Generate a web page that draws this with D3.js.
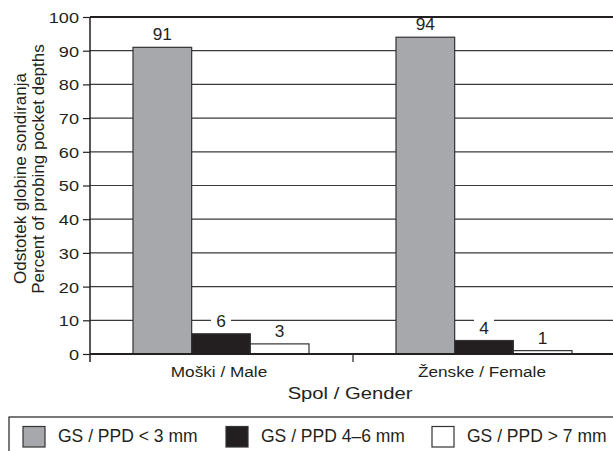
<!DOCTYPE html>
<html><head><meta charset="utf-8">
<script src="https://cdn.jsdelivr.net/npm/d3@7"></script>
<style>body{margin:0;background:#fff}text{font-family:"Liberation Sans",Arial,Helvetica,sans-serif;fill:#231f20}</style>
</head><body><svg id="c" width="613" height="451"></svg>
<script>
const categories = ["Moški / Male", "Ženske / Female"];
const seriesNames = ["GS / PPD < 3 mm", "GS / PPD 4\u20136 mm", "GS / PPD > 7 mm"];
const seriesColors = ["#a7a8ab", "#231f20", "#ffffff"];
const valuesLow = [91, 94];
const valuesMid = [6, 4];
const valuesHigh = [3, 1];
const yTicks = [0, 10, 20, 30, 40, 50, 60, 70, 80, 90, 100];
const series = [valuesLow, valuesMid, valuesHigh];

(function () {
const svg = d3.select("#c");
const pL = 90, pR = 616, pT = 17, pB = 354;
const y = d3.scaleLinear().domain([0, 100]).range([pB, pT]);
const x0 = d3.scaleBand().domain(categories).range([pL, pR]).paddingInner(0).paddingOuter(0);
const x1 = d3.scaleBand().domain(d3.range(series.length)).range([43, 219]).padding(0);

function txt(g, x, yy, s, size, sx, anchor) {
  return g.append("text").attr("transform", `translate(${x},${yy}) scale(${sx},1)`)
    .attr("dy", "0.35em").attr("text-anchor", anchor || "middle").attr("font-size", size).text(s);
}

// gridlines
svg.append("g").selectAll("line").data(yTicks.filter(t => t > 0 && t < 100)).join("line")
  .attr("x1", pL).attr("x2", 613).attr("y1", d => y(d)).attr("y2", d => y(d))
  .attr("stroke", "#3a3a3a").attr("stroke-width", 1.2);

// y axis
const yAxis = d3.axisLeft(y).tickValues(yTicks).tickSize(7).tickPadding(4);
const ga = svg.append("g").attr("transform", `translate(${pL},0)`).call(yAxis);
ga.select(".domain").remove();
ga.selectAll(".tick line").attr("stroke", "#231f20").attr("stroke-width", 1.2);
ga.selectAll(".tick text").attr("font-size", 15.5).attr("fill", "#231f20")
  .attr("transform", "scale(1.17,1)").attr("x", -11 / 1.17).attr("dy", "0.35em")
  .style("font-family", "Liberation Sans, Arial, sans-serif");

const labelsG = svg.append("g");
categories.forEach((c, ci) => {
  series.forEach((vals, si) => {
    const bx = x0(c) + x1(si), bw = x1.bandwidth(), v = vals[ci];
    svg.append("rect").attr("x", bx).attr("y", y(v)).attr("width", bw).attr("height", y(0) - y(v))
      .attr("fill", seriesColors[si]).attr("stroke", "#333").attr("stroke-width", 1.2);
    const ty = y(v) - 12.5;
    labelsG.append("rect").attr("x", bx + bw / 2 - 10).attr("y", ty - 10).attr("width", 20).attr("height", 20).attr("fill", "#fff");
    txt(labelsG, bx + bw / 2, ty, v, 16, 1.08);
  });
});
labelsG.raise();

// frame lines on top
svg.append("line").attr("x1", pL).attr("x2", 613).attr("y1", y(100)).attr("y2", y(100))
  .attr("stroke", "#231f20").attr("stroke-width", 2);
svg.append("line").attr("x1", pL).attr("x2", pL).attr("y1", pT).attr("y2", pB + 8)
  .attr("stroke", "#231f20").attr("stroke-width", 1.5);
svg.append("line").attr("x1", pL).attr("x2", 613).attr("y1", pB).attr("y2", pB)
  .attr("stroke", "#231f20").attr("stroke-width", 2.2);
svg.append("line").attr("x1", x0(categories[1])).attr("x2", x0(categories[1]))
  .attr("y1", pB).attr("y2", pB + 8).attr("stroke", "#231f20").attr("stroke-width", 1.2);
const cg = svg.append("g");
categories.forEach(c => txt(cg, x0(c) + x1(1) + x1.bandwidth() / 2 - 2, 372, c, 15.5, 1.11));

txt(svg, 350, 393.5, "Spol / Gender", 17, 1.19);

const yt = svg.append("g");
yt.append("text").attr("transform", `translate(25.5,178.5) rotate(-90)`)
  .attr("text-anchor", "middle").attr("font-size", 17).text("Odstotek globine sondiranja");
yt.append("text").attr("transform", `translate(44,169) rotate(-90)`)
  .attr("text-anchor", "middle").attr("font-size", 17).text("Percent of probing pocket depths");

// legend
svg.append("rect").attr("x", 9).attr("y", 417).attr("width", 620).attr("height", 50)
  .attr("fill", "none").attr("stroke", "#231f20").attr("stroke-width", 1.2);
const legX = [23, 226, 432];
seriesNames.forEach((n, i) => {
  svg.append("rect").attr("x", legX[i]).attr("y", 426.5).attr("width", 22).attr("height", 20.5)
    .attr("fill", seriesColors[i]).attr("stroke", "#333").attr("stroke-width", 1.2);
  txt(svg, legX[i] + 35, 436, n, 17.5, 1, "start");
});
})();
</script></body></html>
